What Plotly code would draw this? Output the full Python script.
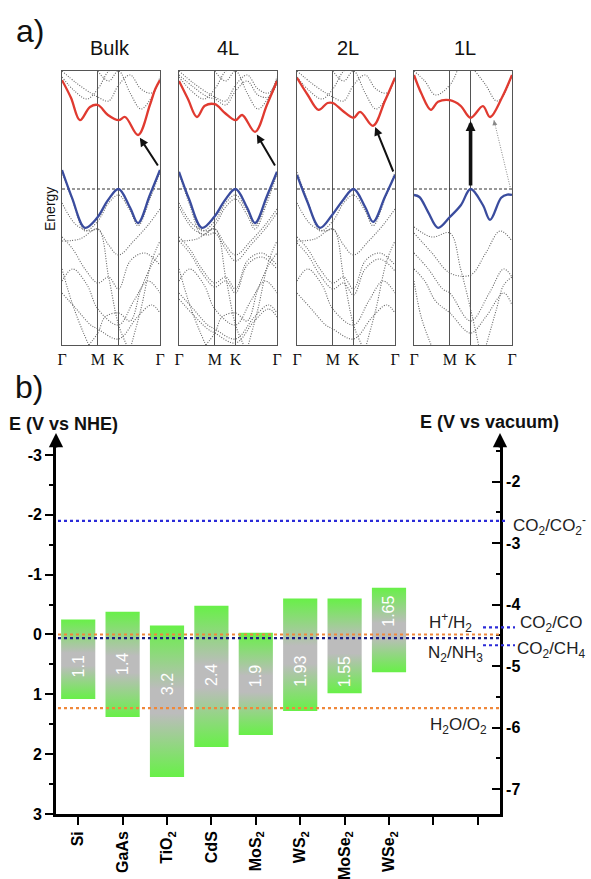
import plotly.graph_objects as go

W, H = 591, 879
def X(px): return px / W
def Y(py): return 1 - py / H

SANS = "Liberation Sans"
SERIF = "Liberation Serif"

# ---------------- panel a data ----------------
k_ticks = [0, 1.0, 1.577, 2.732]
k_labels = ['Γ', 'M', 'K', 'Γ']
panel_titles = ['Bulk', '4L', '2L', '1L']

bulk_cb_k = [0, 0.25, 0.5, 0.78, 1.0, 1.28, 1.577, 1.76, 2.12, 2.45, 2.6, 2.732]
bulk_cb_e = [2.72, 2.28, 1.72, 2.05, 2.1, 1.85, 1.72, 1.8, 1.35, 2.1, 2.5, 2.72]
bulk_vb_k = [0, 0.28, 0.64, 0.98, 1.28, 1.577, 1.9, 2.12, 2.45, 2.732]
bulk_vb_e = [0.475, -0.22, -0.97, -0.72, -0.28, 0.0, -0.47, -0.85, -0.15, 0.475]

l4_cb_k = [0, 0.25, 0.5, 0.72, 1.0, 1.28, 1.577, 1.76, 2.12, 2.45, 2.732]
l4_cb_e = [2.7, 2.25, 1.8, 2.08, 2.12, 1.9, 1.72, 1.85, 1.43, 2.1, 2.7]
l4_vb_k = [0, 0.28, 0.64, 0.98, 1.28, 1.577, 1.9, 2.12, 2.45, 2.732]
l4_vb_e = [0.43, -0.25, -0.97, -0.7, -0.28, 0.0, -0.47, -0.85, -0.18, 0.43]

l2_cb_k = [0, 0.3, 0.6, 0.85, 1.0, 1.28, 1.577, 1.76, 2.12, 2.45, 2.732]
l2_cb_e = [2.78, 2.35, 1.98, 2.15, 2.15, 1.95, 1.78, 1.93, 1.58, 2.2, 2.78]
l2_vb_k = [0, 0.28, 0.64, 0.98, 1.28, 1.577, 1.9, 2.12, 2.45, 2.732]
l2_vb_e = [0.35, -0.3, -0.97, -0.65, -0.28, 0.0, -0.45, -0.82, -0.2, 0.35]

l1_cb_k = [0, 0.2, 0.47, 0.67, 1.0, 1.3, 1.577, 1.92, 2.12, 2.45, 2.732]
l1_cb_e = [2.85, 2.4, 1.98, 2.18, 2.22, 2.08, 1.78, 2.07, 1.8, 2.28, 2.85]
l1_vb_k = [0, 0.15, 0.39, 0.67, 1.0, 1.31, 1.577, 1.92, 2.12, 2.43, 2.6, 2.732]
l1_vb_e = [-0.15, -0.2, -0.57, -0.97, -0.7, -0.4, 0.0, -0.4, -0.77, -0.22, -0.14, -0.15]

bulk_gray = [
    ([0, 0.35, 0.7, 1.0, 1.3, 1.577], [2.8, 2.45, 2.25, 2.5, 2.95, 3.1]),
    ([0, 0.4, 0.8, 1.0, 1.3, 1.577, 1.9, 2.2, 2.5, 2.732], [2.95, 2.65, 2.4, 2.3, 2.2, 2.6, 2.85, 2.5, 2.4, 2.75]),
    ([1.0, 1.3, 1.577, 1.9, 2.2, 2.5, 2.732], [2.95, 2.7, 2.95, 2.4, 2.0, 2.3, 2.8]),
    ([0, 0.3, 0.64, 1.0, 1.3, 1.577, 1.9, 2.12, 2.45, 2.732], [0.42, -0.3, -1.05, -0.8, -0.35, -0.15, -0.55, -0.92, -0.25, 0.42]),
    ([0, 0.4, 0.8, 1.0, 1.3, 1.577, 2.0, 2.4, 2.732], [-0.35, -0.9, -1.05, -1.0, -1.4, -1.65, -1.3, -0.9, -0.5]),
    ([0, 0.3, 0.64, 1.0, 1.3, 1.577, 1.9, 2.3, 2.732], [-1.2, -1.5, -2.0, -2.35, -2.2, -2.5, -1.8, -1.6, -1.9]),
    ([0, 0.5, 1.0, 1.3, 1.577, 1.8, 2.0], [-1.3, -1.25, -1.0, -2.2, -3.4, -3.9, -4.3]),
    ([0, 0.3, 0.7, 1.0, 1.577, 2.0, 2.4, 2.732], [-2.3, -2.0, -2.4, -3.0, -3.4, -2.8, -2.3, -2.6]),
    ([0, 0.4, 0.8, 1.0, 1.577, 2.1, 2.5, 2.732], [-2.6, -3.0, -3.4, -3.5, -3.75, -3.2, -2.9, -3.1]),
    ([0, 0.3, 0.6, 0.8], [-2.0, -2.9, -3.6, -4.0]),
    ([1.9, 2.2, 2.5, 2.732], [-4.0, -3.0, -1.8, -1.3]),
    ([0.7, 1.0, 1.2, 1.577, 1.9, 2.2, 2.5, 2.732], [-3.95, -3.6, -3.2, -3.1, -3.3, -2.5, -1.9, -1.6]),
]

l4_gray = bulk_gray + [
    ([0, 0.4, 0.8, 1.0, 1.3, 1.577, 1.9, 2.2, 2.5, 2.732], [2.85, 2.55, 2.3, 2.25, 2.1, 2.45, 2.7, 2.35, 2.3, 2.65]),
    ([0, 0.3, 0.64, 1.0, 1.3, 1.577, 1.9, 2.12, 2.45, 2.732], [0.38, -0.4, -1.15, -0.9, -0.45, -0.25, -0.65, -1.0, -0.35, 0.38]),
    ([0, 0.4, 0.8, 1.0, 1.3, 1.577, 2.0, 2.4, 2.732], [-0.45, -1.0, -1.15, -1.1, -1.5, -1.8, -1.4, -1.0, -0.6]),
    ([0, 0.3, 0.64, 1.0, 1.3, 1.577, 1.9, 2.3, 2.732], [-1.3, -1.6, -2.1, -2.45, -2.3, -2.6, -1.9, -1.7, -2.0]),
    ([0, 0.4, 0.8, 1.0, 1.577, 2.1, 2.5, 2.732], [-2.75, -3.15, -3.5, -3.6, -3.85, -3.3, -3.0, -3.2]),
]

l2_gray = bulk_gray[:9] + [
    ([0, 0.3, 0.64, 1.0, 1.3, 1.577, 1.9, 2.3, 2.732], [-1.35, -1.65, -2.15, -2.5, -2.35, -2.65, -2.0, -1.75, -2.05]),
    ([1.9, 2.2, 2.5, 2.732], [-4.0, -3.0, -1.8, -1.3]),
]

l1_gray = [
    ([0, 0.3, 0.6, 1.0, 1.2], [2.95, 2.7, 2.35, 2.6, 2.95]),
    ([1.7, 2.0, 2.3, 2.5, 2.732], [2.95, 2.6, 2.2, 2.35, 2.85]),
    ([0, 0.5, 1.0, 1.577, 2.0, 2.4, 2.732], [-1.1, -1.6, -2.1, -2.15, -1.6, -1.05, -1.3]),
    ([0, 0.5, 1.0, 1.3, 1.577, 1.8], [-0.95, -1.2, -1.1, -2.0, -3.0, -3.9]),
    ([0, 0.4, 0.8, 1.0, 1.577, 2.1, 2.5, 2.732], [-1.6, -2.0, -2.5, -2.6, -3.3, -2.6, -2.0, -2.2]),
    ([0, 0.3, 0.6, 1.0, 1.577, 2.0, 2.5, 2.732], [-2.0, -2.3, -2.8, -3.1, -3.6, -3.2, -2.6, -2.9]),
    ([0, 0.2, 0.5], [-2.3, -3.2, -3.95]),
    ([2.0, 2.3, 2.5, 2.732], [-3.95, -3.0, -2.4, -2.2]),
]

# transition arrows: (tail_k, tail_e, head_k, head_e)
arrows = [
    (2.70, 0.55, 2.17, 1.28),
    (2.70, 0.55, 2.17, 1.36),
    (2.70, 0.40, 2.18, 1.55),
    (1.577, 0.05, 1.577, 1.70),
]
l1_indirect = (2.68, 0.05, 2.23, 1.72)

panels = [
    (bulk_cb_k, bulk_cb_e, bulk_vb_k, bulk_vb_e, bulk_gray),
    (l4_cb_k, l4_cb_e, l4_vb_k, l4_vb_e, l4_gray),
    (l2_cb_k, l2_cb_e, l2_vb_k, l2_vb_e, l2_gray),
    (l1_cb_k, l1_cb_e, l1_vb_k, l1_vb_e, l1_gray),
]

# ---------------- panel b data ----------------
materials = ['Si', 'GaAs', 'TiO<sub>2</sub>', 'CdS', 'MoS<sub>2</sub>', 'WS<sub>2</sub>',
             'MoSe<sub>2</sub>', 'WSe<sub>2</sub>', ' ', '  ']
cb_nhe = [-0.25, -0.38, -0.15, -0.48, -0.03, -0.60, -0.60, -0.78]
vb_nhe = [1.08, 1.38, 2.38, 1.88, 1.68, 1.28, 0.98, 0.63]
gap_text = ['1.1', '1.4', '3.2', '2.4', '1.9', '1.93', '1.55', '1.65']
gap_label_nhe = [0.53, 0.50, 0.83, 0.67, 0.70, 0.62, 0.62, -0.38]

nhe_ticks = [-3, -2, -1, 0, 1, 2, 3]
vac_ticks = [-2, -3, -4, -5, -6, -7]

co2_co2m = -1.9
h_h2 = 0.0
n2_nh3 = 0.06
h2o_o2 = 1.23
co2_co = -0.12
co2_ch4 = 0.18

# ---------------- figure ----------------
fig = go.Figure()

boxes_x = [(62, 160), (179, 277), (297, 395), (414, 512)]
box_top, box_bot = 71, 345
title_x = [110, 228, 348, 465]

RED = '#e03a30'
BLUE = '#3a4c9e'
GRAY = '#666666'
DOT = '1px,1.5px'

annotations = []
shapes = []
layout_axes = {}

def text_ann(px, py, text, size, angle=0, weight='normal'):
    annotations.append(dict(x=X(px), y=Y(py), xref='paper', yref='paper', text=text,
                            xanchor='center', yanchor='middle', textangle=angle, showarrow=False,
                            font=dict(family=SANS, size=size, color='#111', weight=weight)))

for i, (cbk, cbe, vbk, vbe, grays) in enumerate(panels):
    n = i + 1
    xa = 'x' if n == 1 else f'x{n}'
    ya = 'y' if n == 1 else f'y{n}'
    for gk, ge in grays:
        fig.add_trace(go.Scatter(x=gk, y=ge, mode='lines', xaxis=xa, yaxis=ya,
                                 line=dict(color=GRAY, width=1.1, dash=DOT, shape='spline', smoothing=1.0),
                                 hoverinfo='skip'))
    fig.add_trace(go.Scatter(x=[k_ticks[0], k_ticks[-1]], y=[0, 0], mode='lines', xaxis=xa, yaxis=ya,
                             line=dict(color='#333', width=1, dash='3px,2px'), hoverinfo='skip'))
    fig.add_trace(go.Scatter(x=cbk, y=cbe, mode='lines', xaxis=xa, yaxis=ya,
                             line=dict(color=RED, width=2.3, shape='spline', smoothing=1.0), hoverinfo='skip'))
    fig.add_trace(go.Scatter(x=vbk, y=vbe, mode='lines', xaxis=xa, yaxis=ya,
                             line=dict(color=BLUE, width=2.3, shape='spline', smoothing=1.0), hoverinfo='skip'))
    tk, te, hk, he = arrows[i]
    thick = (n == 4)
    annotations.append(dict(x=hk, y=he, ax=tk, ay=te, xref=xa, yref=ya, axref=xa, ayref=ya,
                            text='', showarrow=True, arrowhead=2,
                            arrowsize=0.55 if thick else 0.85,
                            arrowwidth=3.6 if thick else 2.0, arrowcolor='#111'))
    x0, x1 = boxes_x[i]
    axkey = 'xaxis' if n == 1 else f'xaxis{n}'
    aykey = 'yaxis' if n == 1 else f'yaxis{n}'
    layout_axes[axkey] = dict(domain=[X(x0), X(x1)], range=[0, 2.732], anchor=ya, automargin=False,
                              tickvals=k_ticks, ticktext=k_labels, ticks='',
                              showgrid=True, gridcolor='#555', gridwidth=1.2,
                              showline=True, mirror=True, linecolor='#555', linewidth=1.3,
                              zeroline=False, tickfont=dict(family=SERIF, size=16, color='#111'))
    layout_axes[aykey] = dict(domain=[Y(box_bot), Y(box_top)], range=[-3.9, 2.95], anchor=xa, automargin=False,
                              showticklabels=False, ticks='', showgrid=False, zeroline=False,
                              showline=True, mirror=True, linecolor='#555', linewidth=1.3)
    text_ann(title_x[i], 48, panel_titles[i], 20)

# 1L indirect dotted transition
tk, te, hk, he = l1_indirect
fig.add_trace(go.Scatter(x=[tk, hk], y=[te, he], mode='lines', xaxis='x4', yaxis='y4',
                         line=dict(color='#888', width=1, dash=DOT), hoverinfo='skip'))
annotations.append(dict(x=hk, y=he, ax=hk + 0.03, ay=he - 0.15, xref='x4', yref='y4', axref='x4', ayref='y4',
                        text='', showarrow=True, arrowhead=2, arrowsize=1.0, arrowwidth=1, arrowcolor='#888'))

text_ann(50, 209, 'Energy', 14, angle=-90)
text_ann(30, 31, 'a)', 32)
text_ann(29, 387, 'b)', 32)

# ---------------- panel b ----------------
GREEN = '#68f048'
GREY = '#bcbcbc'
bar_half = 0.385
for j in range(len(cb_nhe)):
    c = j + 0.5
    fig.add_trace(go.Scatter(
        x=[c - bar_half, c + bar_half, c + bar_half, c - bar_half, c - bar_half],
        y=[cb_nhe[j], cb_nhe[j], vb_nhe[j], vb_nhe[j], cb_nhe[j]],
        mode='lines', fill='toself', line=dict(width=0), xaxis='x5', yaxis='y5',
        fillgradient=dict(type='vertical',
                          colorscale=[[0, GREEN], [0.42, GREY], [0.58, GREY], [1, GREEN]]),
        hoverinfo='skip'))
    annotations.append(dict(x=c, y=gap_label_nhe[j], xref='x5', yref='y5', text=gap_text[j],
                            xanchor='center', yanchor='middle', textangle=-90, showarrow=False,
                            font=dict(family=SANS, size=16, color='white')))

# invisible trace on right axis so it renders
fig.add_trace(go.Scatter(x=[0], y=[-2], mode='markers', marker=dict(opacity=0), xaxis='x5', yaxis='y6',
                         hoverinfo='skip'))

LBLUE = '#2b2bd8'
NAVY = '#1c1c80'
ORANGE = '#f0873a'
def hline(yv, xs, xe, color):
    shapes.append(dict(type='line', xref='paper', yref='y5', x0=X(xs), x1=X(xe), y0=yv, y1=yv,
                       line=dict(color=color, width=2.2, dash='dot'), layer='above'))

hline(co2_co2m, 58, 507, LBLUE)
hline(h_h2, 58, 499, ORANGE)
hline(n2_nh3, 58, 499, NAVY)
hline(h2o_o2, 58, 499, ORANGE)
hline(co2_co, 483, 515, LBLUE)
hline(co2_ch4, 483, 515, LBLUE)

lab_font = dict(family=SANS, size=17, color='#222')
def lab(text, px, yv, anchor):
    annotations.append(dict(x=X(px), y=yv, xref='paper', yref='y5', text=text, showarrow=False,
                            xanchor=anchor, yanchor='middle', font=lab_font))

lab('CO<sub>2</sub>/CO<sub>2</sub><sup>-</sup>', 511, co2_co2m + 0.08, 'left')
lab('H<sup>+</sup>/H<sub>2</sub>', 474, -0.2, 'right')
lab('N<sub>2</sub>/NH<sub>3</sub>', 485, 0.32, 'right')
lab('CO<sub>2</sub>/CO', 518, -0.17, 'left')
lab('CO<sub>2</sub>/CH<sub>4</sub>', 515, 0.26, 'left')
lab('H<sub>2</sub>O/O<sub>2</sub>', 489, 1.53, 'right')

text_ann(63, 424, 'E (V vs NHE)', 18, weight='bold')
text_ann(489, 422, 'E (V vs vacuum)', 18, weight='bold')
for axx in (56, 500):
    annotations.append(dict(x=X(axx), y=Y(433), ax=0, ay=16, xref='paper', yref='paper',
                            axref='pixel', ayref='pixel', text='', showarrow=True,
                            arrowhead=2, arrowsize=1.1, arrowwidth=2.6, arrowcolor='black'))

tickfont_b = dict(family=SANS, size=16, color='black', weight='bold')
layout_axes['xaxis5'] = dict(domain=[X(56), X(500)], range=[0, 10], anchor='y5', automargin=False,
                             tickvals=[j + 0.5 for j in range(len(materials))], ticktext=materials,
                             tickangle=-90, ticks='outside', ticklen=8, tickwidth=2, tickcolor='black',
                             showline=True, linewidth=2.6, linecolor='black', showgrid=False, zeroline=False,
                             tickfont=dict(family=SANS, size=16, color='black', weight='bold'))
layout_axes['yaxis5'] = dict(domain=[Y(814), Y(446)], range=[3, -3.15], anchor='x5', automargin=False,
                             tickvals=nhe_ticks, ticktext=[str(v) for v in nhe_ticks],
                             ticks='outside', ticklen=8, tickwidth=2, tickcolor='black',
                             minor=dict(dtick=0.5, tick0=0, ticks='outside', ticklen=4, tickwidth=2,
                                        tickcolor='black', showgrid=False),
                             showline=True, linewidth=2.8, linecolor='black', showgrid=False, zeroline=False,
                             tickfont=tickfont_b)
layout_axes['yaxis6'] = dict(overlaying='y5', side='right', anchor='x5', automargin=False,
                             range=[-7.406, -1.42],
                             tickvals=vac_ticks, ticktext=[str(v) for v in vac_ticks],
                             ticks='inside', ticklen=8, tickwidth=2, tickcolor='black',
                             minor=dict(dtick=0.5, tick0=0, ticks='inside', ticklen=4, tickwidth=2,
                                        tickcolor='black', showgrid=False),
                             showline=True, linewidth=2.8, linecolor='black', showgrid=False, zeroline=False,
                             tickfont=tickfont_b)

fig.update_layout(width=W, height=H, margin=dict(l=0, r=0, t=0, b=0, autoexpand=False),
                  paper_bgcolor='white', plot_bgcolor='white', showlegend=False,
                  annotations=annotations, shapes=shapes, **layout_axes)

fig.write_html("out.html")
